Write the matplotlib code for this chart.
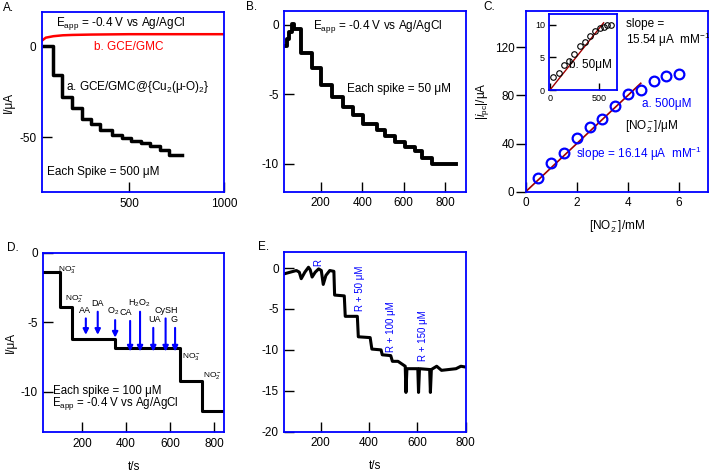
import numpy as np
import matplotlib.pyplot as plt

plt.rcParams['font.family'] = ['Liberation Sans', 'DejaVu Sans']
plt.rcParams['mathtext.fontset'] = 'custom'
plt.rcParams['mathtext.rm'] = 'Liberation Sans'
plt.rcParams['mathtext.it'] = 'Liberation Sans:italic'
plt.rcParams['axes.unicode_minus'] = False
plt.rcParams['font.size'] = 8.5

# A: amperometria GCE/GMC@{Cu2(u-O)2} (degraus) e GCE/GMC
tA = [49, 96, 146, 198, 251, 300, 347, 409, 460, 510, 560, 610, 660, 710, 777]
IA = [0, -16, -28, -34, -40, -43, -46, -49, -50.5, -52, -53.5, -55, -57, -60, -60]
tA_b = [40, 60, 100, 150, 200, 300, 500, 1000]
IA_b = [3.0, 4.6, 5.4, 5.9, 6.1, 6.3, 6.5, 6.5]

# B: adicoes de 50 uM
tB = [24, 35, 45, 60, 70, 105, 157, 200, 253, 308, 358, 406, 470, 510, 559, 607, 655, 688, 736, 855]
IB = [-1.5, -1.0, -0.5, 0.1, -0.3, -2.0, -3.1, -4.3, -5.2, -5.9, -6.5, -7.1, -7.55, -8.0, -8.4, -8.75, -9.1, -9.6, -10.0, -10.0]

# C: curva de calibracao
conc_mM = [0.5, 1.0, 1.5, 2.0, 2.5, 3.0, 3.5, 4.0, 4.5, 5.0, 5.5, 6.0]
ipc_a = [11.2, 23.6, 32, 44.5, 53.3, 60.6, 70.8, 81.2, 84.7, 91.7, 95.8, 98.1]
fit_a_x = [0, 4.5]
fit_a_y = [0, 90]
conc_uM = [34, 95, 146, 197, 245, 306, 357, 415, 459, 510, 551, 585, 622]
ipc_b = [2.05, 2.57, 3.85, 4.5, 5.5, 6.7, 7.3, 8.2, 9.1, 9.5, 9.7, 9.9, 10.0]
fit_b_x = [0, 550]
fit_b_y = [0, 10.3]

# D: interferentes
tD = [26, 100, 155, 350, 645, 745, 845]
ID = [-1.4, -3.9, -6.2, -6.85, -9.2, -11.4, -11.4]
arrow_t = [218, 272, 351, 419, 464, 524, 580, 623]
arrow_lab_y = [-4.12, -3.64, -4.24, -4.3, -3.64, -4.8, -4.12, -4.8]
arrow_tip = [-6.1, -6.1, -6.3, -7.3, -7.3, -7.3, -7.3, -7.3]
arrow_lab_t = [215, 272, 340, 400, 461, 528, 581, 619]
arrow_names = ['AA', 'DA', 'O$_2$', 'CA', 'H$_2$O$_2$', 'UA', 'CySH', 'G']
no_t = [90, 124, 655, 750]
no_y = [-1.24, -3.3, -7.48, -8.8]
no_names = ['NO$_3^-$', 'NO$_2^-$', 'NO$_3^-$', 'NO$_2^-$']

# E: amostra real
tE = [50, 100, 112, 120, 135, 150, 157, 165, 178, 192, 203, 211, 222, 238, 255, 258, 298, 302,
      352, 356, 405, 412, 450, 455, 490, 497, 520, 550, 553, 557, 602, 605, 609, 651, 654, 658,
      680, 700, 760, 780, 800]
IE = [-0.7, -0.3, -0.5, -1.3, -0.5, 0.1, -0.2, -1.1, -0.5, -0.1, -0.3, -2.0, -0.9, -0.3, -0.4, -3.3, -3.4, -5.9,
      -5.9, -8.4, -8.5, -9.9, -10.0, -10.6, -10.7, -11.4, -11.4, -12.0, -15.2, -12.3, -12.3, -15.2, -12.3, -12.4, -15.2, -12.4,
      -12.0, -12.5, -12.3, -12.0, -12.1]
E_lab_t = [190, 362, 493, 623]
E_lab_y = [0.3, -5.3, -10.2, -11.3]
E_labs = ['R', 'R + 50 μM', 'R + 100 μM', 'R + 150 μM']

W, H = 709, 474
fig = plt.figure(figsize=(W / 100, H / 100), dpi=100)


def box(l, t, r, b):
    return [l / W, 1 - b / H, (r - l) / W, (b - t) / H]


def style(ax, ydir='in'):
    for s in ax.spines.values():
        s.set_color('#0000ff')
        s.set_linewidth(1.3)
    ax.tick_params(direction='in', length=7, width=1, pad=4, labelsize=8.5)
    ax.tick_params(axis='y', direction=ydir)


eapp = r'E$_{\rm app}$ = -0.4 V vs Ag/AgCl'

# Painel A
axA = fig.add_axes(box(42, 12, 224, 192))
style(axA)
axA.plot(tA, IA, color='black', lw=2.5, drawstyle='steps-post')
axA.plot(tA_b, IA_b, color='red', lw=1.8)
axA.set_xlim(40, 1000)
axA.set_ylim(-80.2, 18.7)
axA.set_xticks([500, 1000])
axA.set_yticks([0, -50])
axA.set_ylabel('I/μA', labelpad=3)
axA.text(116, 12.5, eapp, va='center')
axA.text(312, -0.4, 'b. GCE/GMC', color='red', va='center')
axA.text(168, -22.4, 'a. GCE/GMC@{Cu$_2$(μ-O)$_2$}', va='center')
axA.text(67, -69, 'Each Spike = 500 μM', va='center')
fig.text(3 / W, 1 - 8 / H, 'A.', va='center')

# Painel B
axB = fig.add_axes(box(284.3, 11, 465.7, 191.7))
style(axB)
axB.plot(tB, IB, color='black', lw=2.8, drawstyle='steps-post')
axB.set_xlim(24, 900)
axB.set_ylim(-12, 1)
axB.set_xticks([200, 400, 600, 800])
axB.set_yticks([0, -5, -10])
axB.text(164, -0.1, eapp, va='center')
axB.text(325, -4.63, 'Each spike = 50 μM', va='center')
fig.text(246 / W, 1 - 7 / H, 'B.', va='center')

# Painel C
axC = fig.add_axes(box(525.7, 11, 708.5, 191.7))
style(axC, ydir='out')
axC.tick_params(axis='y', pad=1)
axC.plot(fit_a_x, fit_a_y, color='#a00000', lw=1.2)
axC.plot(conc_mM, ipc_a, 'o', ms=7, mfc='none', mec='#0000ff', mew=1.6)
axC.set_xlim(0, 7.15)
axC.set_ylim(0, 150)
axC.set_xticks([0, 2, 4, 6])
axC.set_yticks([0, 40, 80, 120])
axC.set_xlabel('[NO$_2^-$]/mM', labelpad=7)
axC.set_ylabel('|$i_{\\rm pc}$|/μA', labelpad=3)
axC.text(3.91, 139, 'slope =', va='center')
axC.text(3.91, 126.4, '15.54 μA  mM$^{-1}$', va='center')
axC.text(4.56, 73, 'a. 500μM', color='#0000ff', va='center')
axC.text(3.87, 53.7, '[NO$_2^-$]/μM', va='center')
axC.text(1.96, 31.4, 'slope = 16.14 μA  mM$^{-1}$', color='#0000ff', va='center')
fig.text(483 / W, 1 - 7 / H, 'C.', va='center')

axI = fig.add_axes(box(549, 14.3, 617.3, 90))
style(axI)
axI.tick_params(length=5, labelsize=6.5, pad=3)
axI.plot(fit_b_x, fit_b_y, color='#a00000', lw=1.0)
axI.plot(conc_uM, ipc_b, 'o', ms=4, mfc='none', mec='black', mew=0.8)
axI.set_xlim(-10, 690)
axI.set_ylim(0, 11.6)
axI.set_xticks([0, 500])
axI.set_yticks([0, 5, 10])
axI.text(195, 3.9, 'b. 50μM', va='center')

# Painel D
axD = fig.add_axes(box(43.3, 252.7, 224, 432.3))
style(axD)
axD.plot(tD, ID, color='black', lw=2.2, drawstyle='steps-post')
axD.set_xlim(25, 845)
axD.set_ylim(-12.9, 0)
axD.set_xticks([200, 400, 600, 800])
axD.set_yticks([0, -5, -10])
axD.set_xlabel('t/s', labelpad=8)
axD.set_ylabel('I/μA', labelpad=3)
for t, ly, tip, lt, name in zip(arrow_t, arrow_lab_y, arrow_tip, arrow_lab_t, arrow_names):
    axD.annotate('', xy=(t, tip), xytext=(t, ly - 0.4),
                 arrowprops=dict(arrowstyle='-|>', color='#0000ff', lw=1.5, mutation_scale=8))
    axD.text(lt, ly, name, fontsize=6.5, ha='center', va='center')
for t, y, name in zip(no_t, no_y, no_names):
    axD.text(t, y, name, fontsize=6, va='center')
axD.text(71, -9.9, 'Each spike = 100 μM', va='center', fontsize=8.3)
axD.text(64, -10.85, eapp, va='center', fontsize=8.3)
fig.text(7 / W, 1 - 248 / H, 'D.', va='center')

# Painel E
axE = fig.add_axes(box(284.3, 251.7, 465.7, 431.7))
style(axE)
axE.plot(tE, IE, color='black', lw=2.2)
axE.set_xlim(50, 800)
axE.set_ylim(-20, 2)
axE.set_xticks([200, 400, 600, 800])
axE.set_yticks([0, -5, -10, -15, -20])
axE.set_xlabel('t/s', labelpad=8)
for t, y, s in zip(E_lab_t, E_lab_y, E_labs):
    axE.text(t, y, s, rotation=90, color='#0000ff', fontsize=7, ha='center', va='bottom')
fig.text(258 / W, 1 - 247 / H, 'E.', va='center')

fig.savefig('out.png', dpi=100)
